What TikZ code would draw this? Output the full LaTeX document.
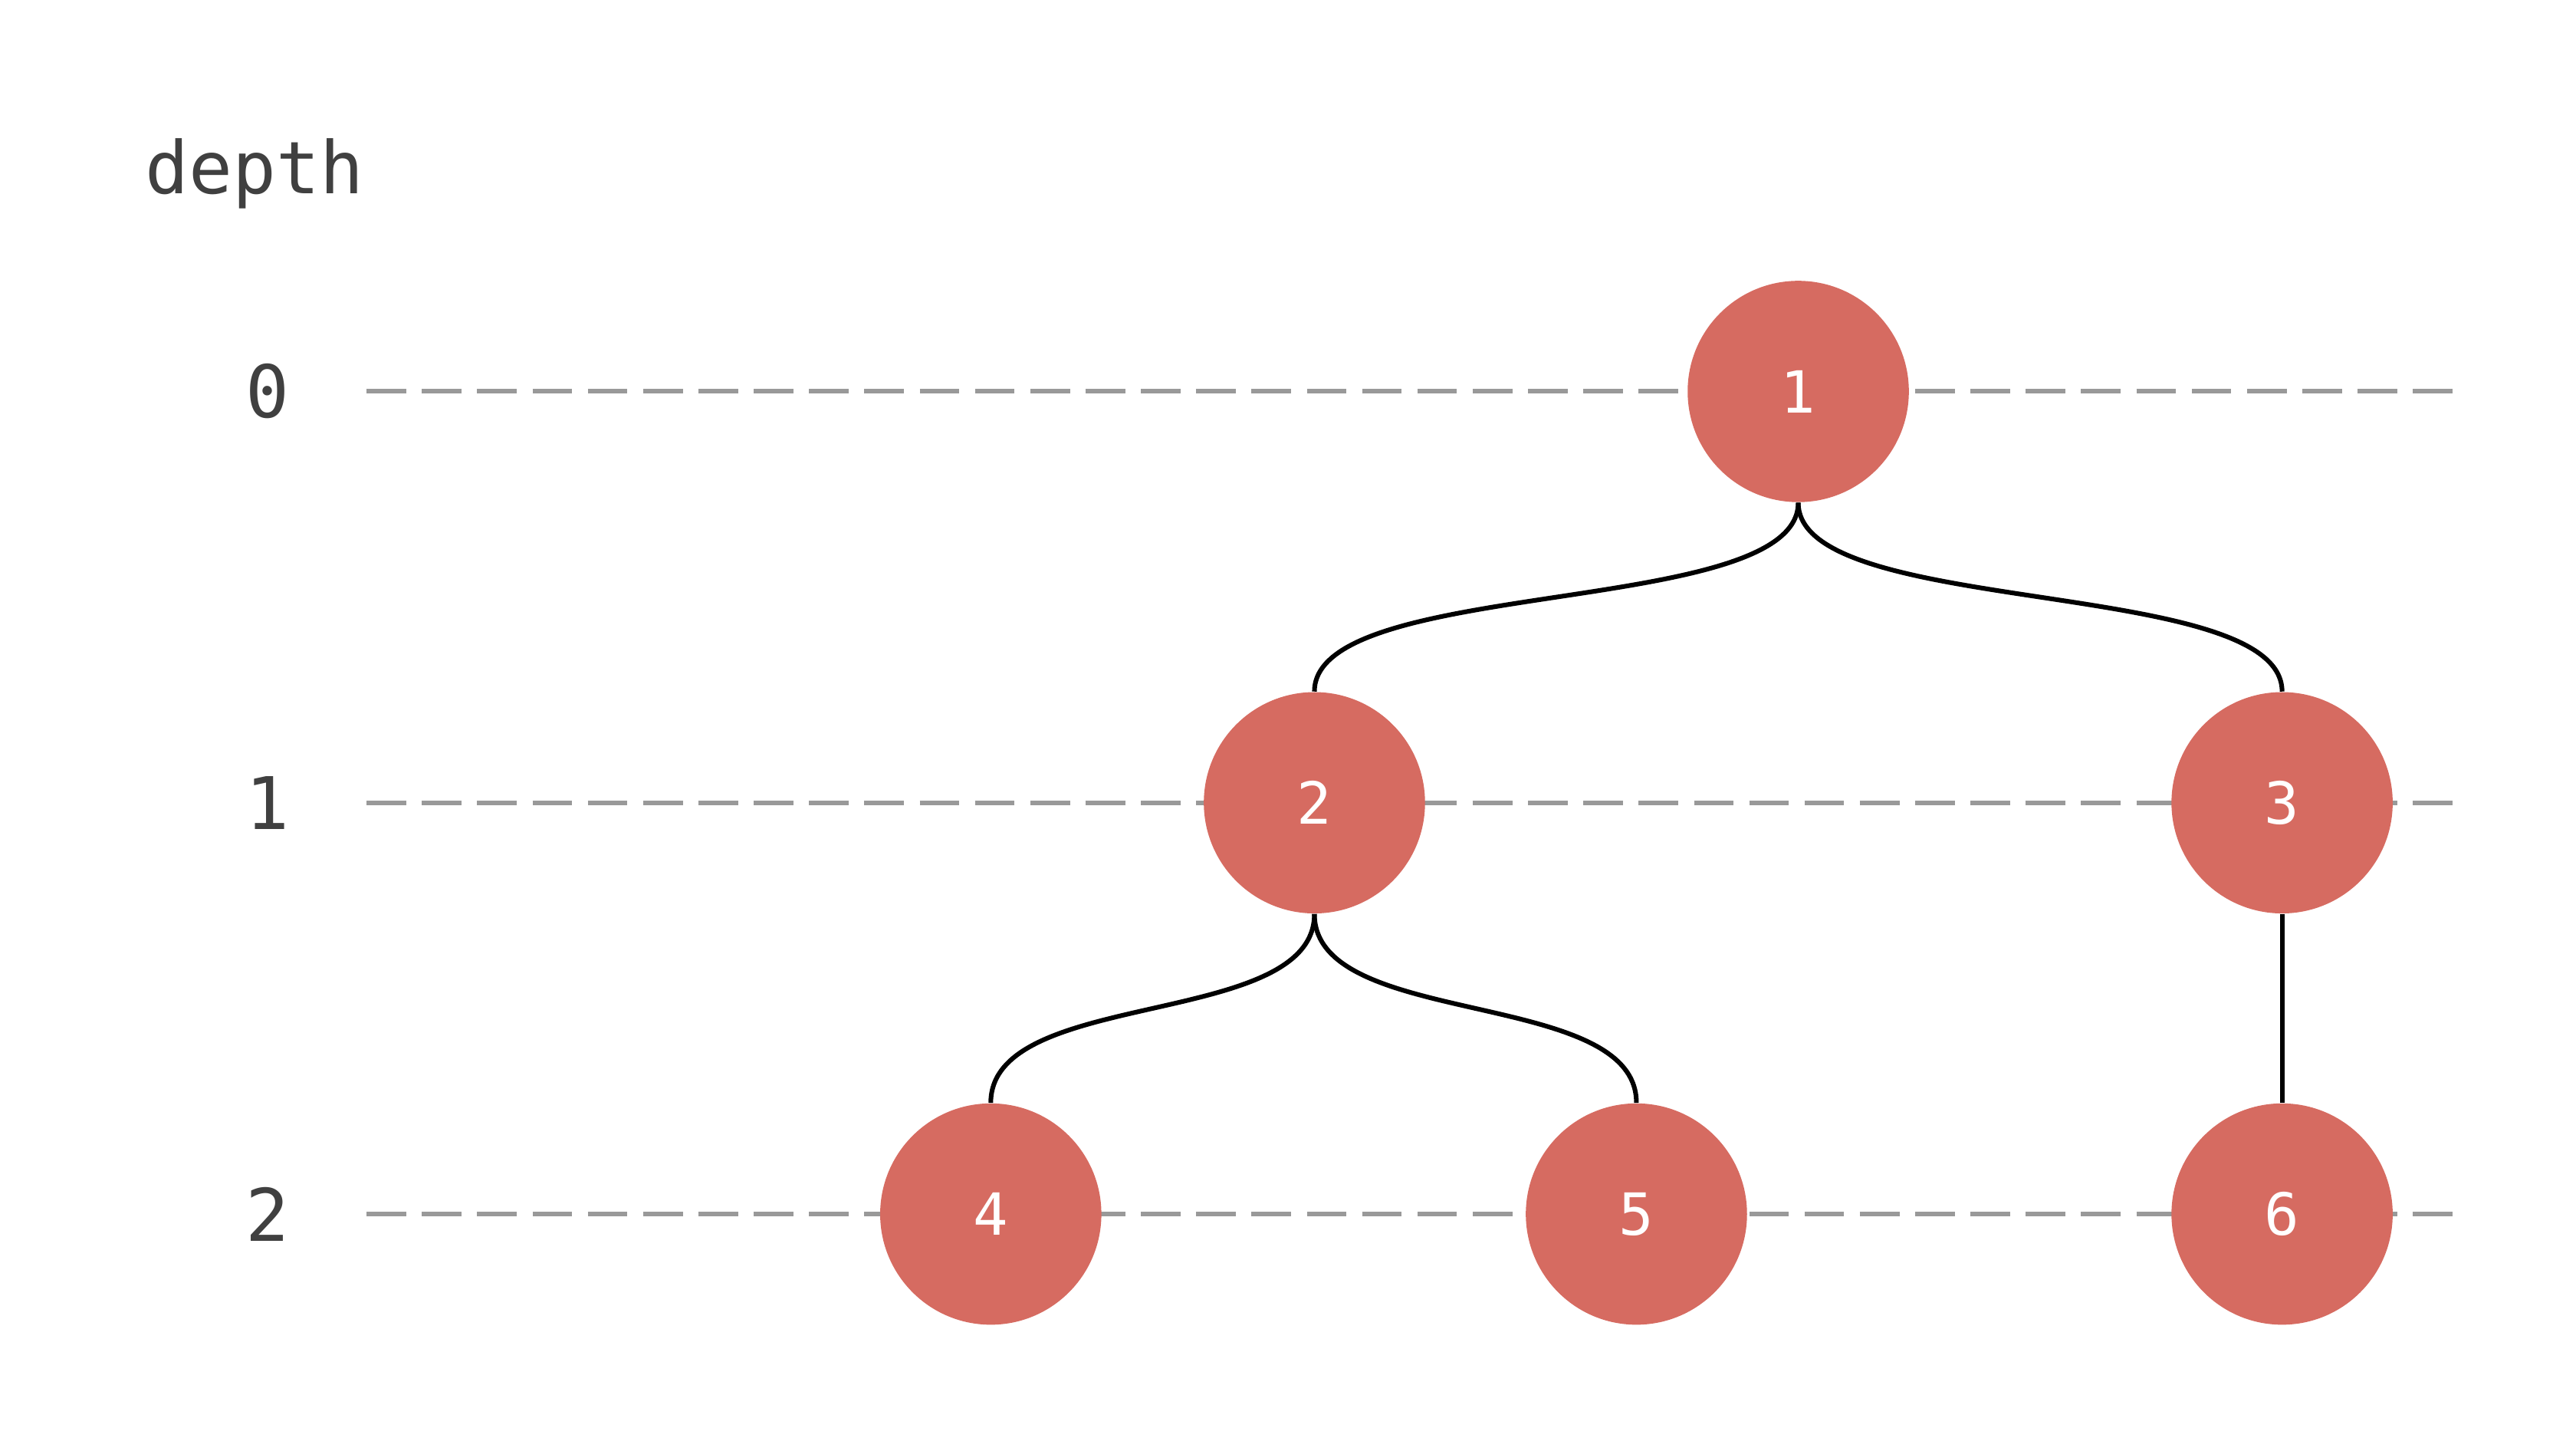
\documentclass[tikz,border=0pt]{standalone}
\usepackage{fontspec}
\setmonofont{DejaVu Sans Mono}
\definecolor{nodered}{HTML}{D66B61}
\definecolor{txt}{HTML}{404040}
\begin{document}
\begin{tikzpicture}[x=0.02cm,y=-0.02cm,
  tn/.style={circle,fill=nodered,minimum size=2.68cm,inner sep=0pt,text=white,font=\ttfamily\fontsize{20}{24}\selectfont},
  lbl/.style={text=txt,font=\ttfamily\fontsize{25}{30}\selectfont},
  lvl/.style={draw=gray!80,line width=1.6pt,dash pattern=on 0.48cm off 0.19cm},
  edge/.style={draw=black,line width=1.6pt}]
\useasboundingbox (0,0) rectangle (1560,872);
\node[lbl,anchor=west] (d) at (82,105) {depth};
\node[lbl] (l0) at (162,237) {0};
\node[lbl] (l1) at (162,486) {1};
\node[lbl] (l2) at (162,735) {2};
\foreach \y/\n in {237/a,486/b,735/c}{
  \coordinate (s\n) at (222,\y); \coordinate (e\n) at (1490,\y);
  \draw[lvl] (s\n) -- (e\n);}
\node[tn] (n1) at (1089,237) {1};
\node[tn] (n2) at (796,486) {2};
\node[tn] (n3) at (1382,486) {3};
\node[tn] (n4) at (600,735) {4};
\node[tn] (n5) at (991,735) {5};
\node[tn] (n6) at (1382,735) {6};
\foreach \p/\c in {n1/n2,n1/n3,n2/n4,n2/n5}{
  \draw[edge] (\p.south) .. controls ([yshift=-1.4cm]\p.south) and ([yshift=1.4cm]\c.north) .. (\c.north);}
\draw[edge] (n3) -- (n6);
\end{tikzpicture}
\end{document}
